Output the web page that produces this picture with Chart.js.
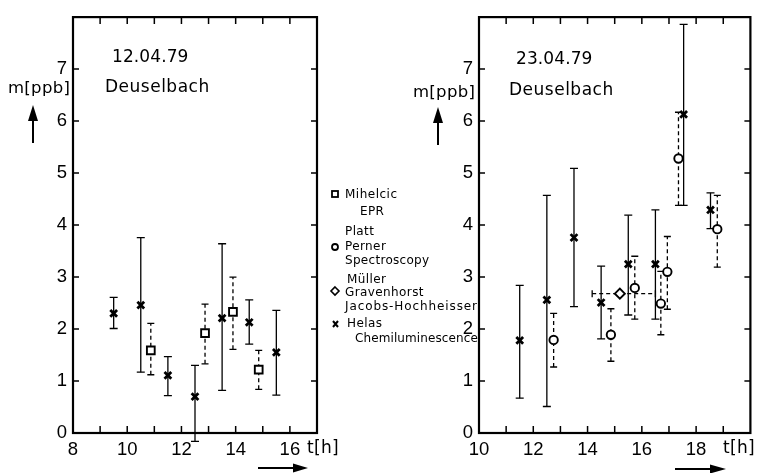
<!DOCTYPE html>
<html><head><meta charset="utf-8">
<script src="https://cdn.jsdelivr.net/npm/chart.js@4/dist/chart.umd.min.js"></script>
<style>
html,body{margin:0;padding:0;background:#fff;}
#wrap{position:relative;width:758px;height:473px;overflow:hidden;}
.cv{position:absolute;top:0;height:473px;}
#ov{position:absolute;left:0;top:0;pointer-events:none;}
#ov text{font-family:"DejaVu Sans",sans-serif;fill:#000;}
</style></head><body>
<div id="wrap">
  <div class="cv" style="left:0;width:330px"><canvas id="c1"></canvas></div>
  <div class="cv" style="left:410px;width:348px"><canvas id="c2"></canvas></div>
  <svg id="ov" width="758" height="473" viewBox="0 0 758 473">
    <text x="112" y="62" font-size="17" letter-spacing="0.1">12.04.79</text>
    <text x="105" y="92" font-size="17" letter-spacing="0.5">Deuselbach</text>
    <text x="516" y="64" font-size="17" letter-spacing="0.1">23.04.79</text>
    <text x="509" y="95" font-size="17" letter-spacing="0.5">Deuselbach</text>
    <text x="8" y="93" font-size="16.5" letter-spacing="0.3">m[ppb]</text>
    <text x="413" y="97" font-size="16.5" letter-spacing="0.3">m[ppb]</text>
    <text x="307" y="453" font-size="17" letter-spacing="0.3">t[h]</text>
    <text x="723" y="453" font-size="17" letter-spacing="0.3">t[h]</text>
    <!-- axis arrows -->
    <line x1="33" y1="143" x2="33" y2="118" stroke="#000" stroke-width="2"/>
    <path d="M33 105 L38 121 L28 121 Z" fill="#000"/>
    <line x1="438" y1="145" x2="438" y2="120" stroke="#000" stroke-width="2"/>
    <path d="M438 107 L443 123 L433 123 Z" fill="#000"/>
    <line x1="258" y1="468" x2="296" y2="468" stroke="#000" stroke-width="2"/>
    <path d="M308 468 L293 463.5 L293 472.5 Z" fill="#000"/>
    <line x1="675" y1="469" x2="712" y2="469" stroke="#000" stroke-width="2"/>
    <path d="M726 469 L710 464.5 L710 473.5 Z" fill="#000"/>
    <!-- legend -->
    <rect x="332" y="191" width="6" height="6" fill="#fff" stroke="#000" stroke-width="1.8"/>
    <text x="345" y="198" font-size="12" letter-spacing="0.5">Mihelcic</text>
    <text x="360" y="215" font-size="12" letter-spacing="0.4">EPR</text>
    <text x="345" y="235" font-size="12" letter-spacing="0.4">Platt</text>
    <circle cx="335" cy="247" r="3" fill="#fff" stroke="#000" stroke-width="1.8"/>
    <text x="345" y="250" font-size="12" letter-spacing="0.4">Perner</text>
    <text x="345" y="264" font-size="12" letter-spacing="0.3">Spectroscopy</text>
    <text x="347" y="283" font-size="12" letter-spacing="0.4">Müller</text>
    <path d="M335 287 L339 291 L335 295 L331 291 Z" fill="#fff" stroke="#000" stroke-width="1.6"/>
    <text x="345" y="296" font-size="12" letter-spacing="0.4">Gravenhorst</text>
    <text x="345" y="310" font-size="12" letter-spacing="0.9">Jacobs-Hochheisser</text>
    <path d="M333 321 L338 327 M338 321 L333 327" stroke="#000" stroke-width="2"/>
    <text x="347" y="327" font-size="12" letter-spacing="0.4">Helas</text>
    <text x="355" y="342" font-size="12" letter-spacing="0.1">Chemiluminescence</text>
  </svg>
</div>
<script>
// ---- Panel 1: 12.04.79 Deuselbach ----
const p1HelasT  = [9.5, 10.5, 11.5, 12.5, 13.5, 14.5, 15.5];
const p1HelasM  = [2.30, 2.46, 1.11, 0.70, 2.21, 2.13, 1.55];
const p1HelasLo = [2.01, 1.17, 0.72, -0.16, 0.82, 1.71, 0.73];
const p1HelasHi = [2.61, 3.76, 1.47, 1.30, 3.64, 2.56, 2.36];
const p1MihT  = [10.87, 12.87, 13.9, 14.85];
const p1MihM  = [1.59, 1.92, 2.33, 1.22];
const p1MihLo = [1.12, 1.33, 1.61, 0.84];
const p1MihHi = [2.11, 2.48, 3.00, 1.59];

// ---- Panel 2: 23.04.79 Deuselbach ----
const p2HelasT  = [11.5, 12.5, 13.5, 14.5, 15.5, 16.5, 17.54, 18.53];
const p2HelasM  = [1.78, 2.56, 3.76, 2.51, 3.25, 3.25, 6.13, 4.29];
const p2HelasLo = [0.67, 0.51, 2.43, 1.81, 2.27, 2.19, 4.38, 3.93];
const p2HelasHi = [2.84, 4.57, 5.09, 3.21, 4.19, 4.29, 7.86, 4.62];
const p2PlattT  = [12.75, 14.86, 15.74, 16.70, 16.94, 17.35, 18.78];
const p2PlattM  = [1.79, 1.89, 2.79, 2.49, 3.10, 5.28, 3.92];
const p2PlattLo = [1.27, 1.38, 2.19, 1.89, 2.38, 4.38, 3.19];
const p2PlattHi = [2.30, 2.39, 3.40, 3.11, 3.78, 6.17, 4.57];
const p2MullerT  = [15.19];
const p2MullerM  = [2.68];
const p2MullerTLo = [14.17];
const p2MullerTHi = [16.50];

// axis ranges
const p1XRange = [8, 17];
const p2XRange = [10, 20];
const yRange = [0, 8];

function pts(t, m, lo, hi) {
  return t.map((v, i) => ({x: v, y: m[i], yMin: lo[i], yMax: hi[i]}));
}
function ptsX(t, m, lo, hi) {
  return t.map((v, i) => ({x: v, y: m[i], xMin: lo[i], xMax: hi[i]}));
}

const errorBars = {
  id: 'errorBars',
  beforeDatasetsDraw(chart) {
    const ctx = chart.ctx, xs = chart.scales.x, ys = chart.scales.y;
    chart.data.datasets.forEach((ds, i) => {
      if (!chart.isDatasetVisible(i)) return;
      const dash = ds.errDash || [];
      const cw = ds.capHalf || 4;
      ctx.save();
      ctx.strokeStyle = '#000';
      ctx.lineWidth = ds.errWidth || 1.3;
      ds.data.forEach(p => {
        const px = xs.getPixelForValue(p.x);
        const py = ys.getPixelForValue(p.y);
        if (p.yMin != null) {
          const y1 = ys.getPixelForValue(p.yMin), y2 = ys.getPixelForValue(p.yMax);
          ctx.setLineDash(dash);
          ctx.beginPath(); ctx.moveTo(px, y1); ctx.lineTo(px, y2); ctx.stroke();
          ctx.setLineDash([]);
          ctx.beginPath();
          ctx.moveTo(px - cw, y1); ctx.lineTo(px + cw, y1);
          ctx.moveTo(px - cw, y2); ctx.lineTo(px + cw, y2);
          ctx.stroke();
        }
        if (p.xMin != null) {
          const x1 = xs.getPixelForValue(p.xMin), x2 = xs.getPixelForValue(p.xMax);
          ctx.setLineDash(dash);
          ctx.beginPath(); ctx.moveTo(x1, py); ctx.lineTo(x2, py); ctx.stroke();
          ctx.setLineDash([]);
          ctx.beginPath();
          ctx.moveTo(x1, py - cw); ctx.lineTo(x1, py + cw);
          ctx.moveTo(x2, py - cw); ctx.lineTo(x2, py + cw);
          ctx.stroke();
        }
      });
      ctx.restore();
    });
  }
};

const frame = {
  id: 'frame',
  afterDraw(chart) {
    const {ctx, chartArea: a, scales: {x, y}} = chart;
    ctx.save();
    ctx.strokeStyle = '#000';
    ctx.lineWidth = 2.2;
    ctx.strokeRect(a.left, a.top, a.right - a.left, a.bottom - a.top);
    ctx.lineWidth = 1.5;
    ctx.beginPath();
    x.ticks.forEach(t => {
      if (t.value <= x.min || t.value >= x.max) return;
      const px = x.getPixelForValue(t.value);
      ctx.moveTo(px, a.bottom); ctx.lineTo(px, a.bottom - 7);
      ctx.moveTo(px, a.top); ctx.lineTo(px, a.top + 7);
    });
    y.ticks.forEach(t => {
      if (t.value <= y.min || t.value >= y.max) return;
      const py = y.getPixelForValue(t.value);
      ctx.moveTo(a.left, py); ctx.lineTo(a.left + 6, py);
      ctx.moveTo(a.right, py); ctx.lineTo(a.right - 6, py);
    });
    ctx.stroke();
    ctx.restore();
  }
};

const tickFont = {family: '"Liberation Sans", Arial, sans-serif', size: 18.5};

function makeScales(xr, yAxisWidth) {
  return {
    x: {
      type: 'linear', min: xr[0], max: xr[1],
      afterFit(s) { s.height = 40; },
      grid: {display: false, drawTicks: false},
      border: {display: false},
      ticks: {
        stepSize: 1, autoSkip: false, maxRotation: 0, minRotation: 0,
        padding: 6, color: '#000', font: tickFont,
        callback: v => (v % 2 === 0 && v < xr[1]) ? String(v) : ''
      }
    },
    y: {
      type: 'linear', min: yRange[0], max: yRange[1],
      afterFit(s) { s.width = yAxisWidth; },
      grid: {display: false, drawTicks: false},
      border: {display: false},
      ticks: {
        stepSize: 1, autoSkip: false, padding: 6, color: '#000', font: tickFont,
        callback: v => (v < yRange[1]) ? String(v) : ''
      }
    }
  };
}

const helasStyle = {pointStyle: 'crossRot', pointRadius: 4.8, pointBorderWidth: 2.8,
  borderColor: '#000', backgroundColor: '#000', errDash: [], capHalf: 4, errWidth: 1.3};
const dashedStyle = {errDash: [4, 3], capHalf: 3.5, errWidth: 1.3,
  borderColor: '#000', backgroundColor: '#fff', pointBorderWidth: 1.9};

const common = {
  animation: false, responsive: true, maintainAspectRatio: false, devicePixelRatio: 1,
  plugins: {legend: {display: false}, tooltip: {enabled: false}},
  events: []
};

new Chart(document.getElementById('c1'), {
  type: 'scatter',
  data: {datasets: [
    Object.assign({label: 'Helas Chemiluminescence', data: pts(p1HelasT, p1HelasM, p1HelasLo, p1HelasHi)}, helasStyle),
    Object.assign({label: 'Mihelcic EPR', data: pts(p1MihT, p1MihM, p1MihLo, p1MihHi),
      pointStyle: 'rect', pointRadius: 5.5}, dashedStyle)
  ]},
  options: Object.assign({}, common, {
    layout: {padding: {top: 12, right: 13, bottom: 0, left: 0}},
    scales: makeScales(p1XRange, 73),
    clip: false
  }),
  plugins: [errorBars, frame]
});

new Chart(document.getElementById('c2'), {
  type: 'scatter',
  data: {datasets: [
    Object.assign({label: 'Helas Chemiluminescence', data: pts(p2HelasT, p2HelasM, p2HelasLo, p2HelasHi)}, helasStyle),
    Object.assign({label: 'Platt Perner Spectroscopy', data: pts(p2PlattT, p2PlattM, p2PlattLo, p2PlattHi),
      pointStyle: 'circle', pointRadius: 4.2}, dashedStyle),
    Object.assign({label: 'Müller Gravenhorst Jacobs-Hochheisser', data: ptsX(p2MullerT, p2MullerM, p2MullerTLo, p2MullerTHi),
      pointStyle: 'rectRot', pointRadius: 5}, dashedStyle)
  ]},
  options: Object.assign({}, common, {
    layout: {padding: {top: 13, right: 6, bottom: 0, left: 0}},
    scales: makeScales(p2XRange, 69),
    clip: false
  }),
  plugins: [errorBars, frame]
});
</script>
</body></html>
